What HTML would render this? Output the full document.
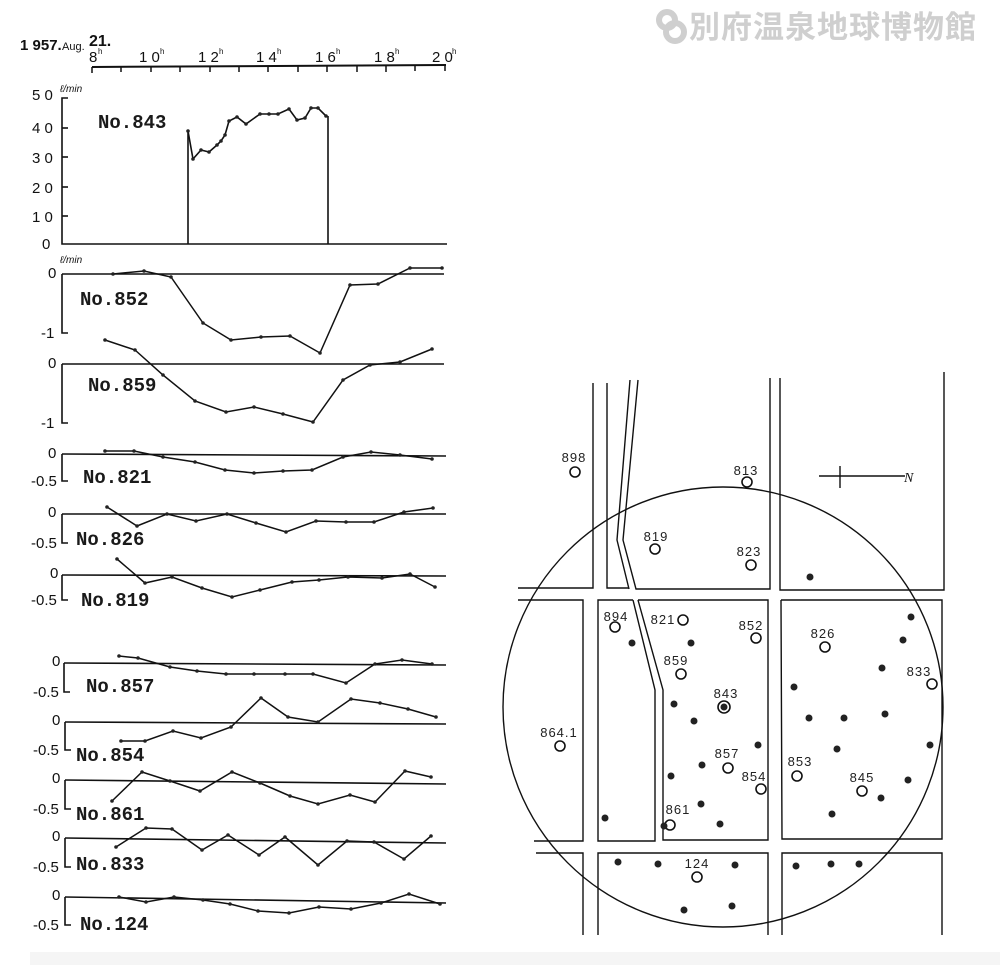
<!DOCTYPE html>
<html><head><meta charset="utf-8"><style>
html,body{margin:0;padding:0;background:#fff;}
svg{display:block;}
text{font-family:"Liberation Sans",sans-serif;fill:#111;}
text.lbl,.lbl text{font-family:"Liberation Mono","Liberation Serif",serif;font-size:19px;font-weight:bold;fill:#1a1a1a;}
.yl text{font-size:15px;}
.m text{font-size:13px;fill:#222;}
</style></head><body>
<svg width="1000" height="965" viewBox="0 0 1000 965" xmlns="http://www.w3.org/2000/svg">
<defs>
<marker id="d" markerWidth="4" markerHeight="4" refX="2" refY="2" markerUnits="userSpaceOnUse"><circle cx="2" cy="2" r="1.8" fill="#222"/></marker>
</defs>
<rect width="1000" height="965" fill="#fff"/>
<rect x="30" y="952" width="970" height="13" fill="#f5f5f5"/>

<g fill="#cfcfcf">
<circle cx="667" cy="20" r="8" fill="none" stroke="#cfcfcf" stroke-width="6"/>
<circle cx="675" cy="32" r="9" fill="none" stroke="#cfcfcf" stroke-width="6"/>
</g>
<text x="689" y="38" style="font-family:'Liberation Sans','Noto Sans CJK JP',sans-serif;font-size:31px;font-weight:bold;fill:#cfcfcf;letter-spacing:1px">別府温泉地球博物館</text>

<text x="20" y="50" style="font-size:15px;font-weight:bold">1 957.</text>
<text x="62" y="50" style="font-size:11px">Aug.</text>
<text x="89" y="46" style="font-size:16px;font-weight:bold">21.</text>
<g stroke="#111" stroke-width="2" fill="none">
<line x1="92" y1="67" x2="446" y2="65"/>
</g>
<g stroke="#111" stroke-width="1.5">
<line x1="92" y1="67" x2="92" y2="73"/><line x1="121" y1="67" x2="121" y2="72"/><line x1="151" y1="67" x2="151" y2="72"/><line x1="180" y1="67" x2="180" y2="72"/><line x1="210" y1="67" x2="210" y2="72"/><line x1="239" y1="67" x2="239" y2="72"/><line x1="268" y1="66" x2="268" y2="72"/><line x1="298" y1="66" x2="298" y2="72"/><line x1="327" y1="66" x2="327" y2="72"/><line x1="357" y1="66" x2="357" y2="72"/><line x1="386" y1="66" x2="386" y2="72"/><line x1="415" y1="65" x2="415" y2="71"/><line x1="445" y1="65" x2="445" y2="71"/>
</g>
<g style="font-size:15px">
<text x="89" y="62" style="font-size:15px">8</text><text x="98" y="54" style="font-size:8px">h</text>
<text x="139" y="62" style="font-size:15px">1 0</text><text x="160" y="54" style="font-size:8px">h</text>
<text x="198" y="62" style="font-size:15px">1 2</text><text x="219" y="54" style="font-size:8px">h</text>
<text x="256" y="62" style="font-size:15px">1 4</text><text x="277" y="54" style="font-size:8px">h</text>
<text x="315" y="62" style="font-size:15px">1 6</text><text x="336" y="54" style="font-size:8px">h</text>
<text x="374" y="62" style="font-size:15px">1 8</text><text x="395" y="54" style="font-size:8px">h</text>
<text x="432" y="62" style="font-size:15px">2 0</text><text x="452" y="54" style="font-size:8px">h</text>
</g>

<g class="yl">
<text x="32" y="100">5 0</text><text x="32" y="133">4 0</text><text x="32" y="163">3 0</text><text x="32" y="193">2 0</text><text x="32" y="222">1 0</text><text x="42" y="249">0</text>
</g>
<text x="60" y="92" style="font-size:10px;font-style:italic">ℓ/min</text>
<g stroke="#111" stroke-width="1.6" fill="none">
<polyline points="68,98 62,98 62,244 447,244"/>
<line x1="62" y1="128" x2="68" y2="128"/><line x1="62" y1="157" x2="68" y2="157"/><line x1="62" y1="187" x2="68" y2="187"/><line x1="62" y1="216" x2="68" y2="216"/>
<line x1="188" y1="244" x2="188" y2="131"/>
<line x1="328" y1="244" x2="328" y2="116"/>
</g>
<polyline fill="none" stroke="#111" stroke-width="1.6" marker-start="url(#d)" marker-mid="url(#d)" marker-end="url(#d)" points="188,131 193,159 201,150 209,152 217,145 221,141 225,135 229,121 237,117 246,124 260,114 269,114 278,114 289,109 297,120 305,118 311,108 318,108 326,116"/>
<text class="lbl" x="98" y="128">No.843</text>

<g stroke="#111" stroke-width="1.6" fill="none">
<polyline points="62,274 444,274"/><polyline points="62,274 62,333 68,333"/>
<polyline points="62,364 444,364"/><polyline points="62,364 62,423 68,423"/>
<polyline points="62,454 446,456"/><polyline points="62,454 62,481 68,481"/>
<polyline points="62,514 446,514"/><polyline points="62,514 62,543 68,543"/>
<polyline points="62,575 446,576"/><polyline points="62,575 62,600 68,600"/>
<polyline points="64,663 446,665"/><polyline points="64,663 64,692 70,692"/>
<polyline points="65,722 446,724"/><polyline points="65,722 65,750 71,750"/>
<polyline points="65,780 446,784"/><polyline points="65,780 65,809 71,809"/>
<polyline points="65,838 446,843"/><polyline points="65,838 65,867 71,867"/>
<polyline points="65,897 446,903"/><polyline points="65,897 65,925 71,925"/>
</g>
<g fill="none" stroke="#111" stroke-width="1.5" marker-start="url(#d)" marker-mid="url(#d)" marker-end="url(#d)">
<polyline points="113,274 144,271 171,277 203,323 231,340 261,337 290,336 320,353 350,285 378,284 410,268 442,268"/>
<polyline points="105,340 135,350 163,375 195,401 226,412 254,407 283,414 313,422 343,380 370,365 400,362 432,349"/>
<polyline points="105,451 134,451 163,457 195,462 225,470 254,473 283,471 312,470 343,457 371,452 400,455 432,459"/>
<polyline points="107,507 137,526 167,514 196,521 227,514 256,523 286,532 316,521 346,522 374,522 404,512 433,508"/>
<polyline points="117,559 145,583 172,577 202,588 232,597 260,590 292,582 319,580 348,577 382,578 410,574 435,587"/>
<polyline points="119,656 138,658 170,667 197,671 226,674 254,674 285,674 313,674 346,683 375,664 402,660 432,664"/>
<polyline points="121,741 145,741 173,731 201,738 231,727 261,698 288,717 318,722 351,699 380,703 408,709 436,717"/>
<polyline points="112,801 142,772 170,781 200,791 232,772 260,783 290,796 318,804 350,795 375,802 405,771 431,777"/>
<polyline points="116,847 146,828 172,829 202,850 228,835 259,855 285,837 318,865 347,841 374,842 404,859 431,836"/>
<polyline points="119,897 146,902 174,897 203,900 230,904 258,911 289,913 319,907 351,909 381,903 409,894 440,904"/>
</g>
<text x="60" y="263" style="font-size:10px;font-style:italic">ℓ/min</text>
<g class="yl">
<text x="48" y="278">0</text><text x="41" y="338">-1</text>
<text x="48" y="368">0</text><text x="41" y="428">-1</text>
<text x="48" y="458">0</text><text x="31" y="486">-0.5</text>
<text x="48" y="517">0</text><text x="31" y="548">-0.5</text>
<text x="50" y="578">0</text><text x="31" y="605">-0.5</text>
<text x="52" y="666">0</text><text x="33" y="697">-0.5</text>
<text x="52" y="725">0</text><text x="33" y="755">-0.5</text>
<text x="52" y="783">0</text><text x="33" y="814">-0.5</text>
<text x="52" y="841">0</text><text x="33" y="872">-0.5</text>
<text x="52" y="900">0</text><text x="33" y="930">-0.5</text>
</g>
<g class="lbl">
<text x="80" y="305">No.852</text>
<text x="88" y="391">No.859</text>
<text x="83" y="483">No.821</text>
<text x="76" y="545">No.826</text>
<text x="81" y="606">No.819</text>
<text x="86" y="692">No.857</text>
<text x="76" y="761">No.854</text>
<text x="76" y="820">No.861</text>
<text x="76" y="870">No.833</text>
<text x="80" y="930">No.124</text>
</g>

<g stroke="#111" stroke-width="1.4" fill="none">
<polyline points="593,383 593,588 518,588"/>
<polyline points="518,600 583,600 583,841 534,841"/>
<polyline points="536,853 583,853 583,935"/>
<polyline points="607,383 607,588 629,588"/>
<polyline points="630,380 617,540 629,589"/>
<polyline points="638,380 623,540 636,589 770,589 770,378"/>
<polyline points="780,378 780,590 944,590 944,372"/>
<polyline points="633,600 598,600 598,841 655,841 655,690 633,600"/>
<polyline points="638,600 768,600 768,840 663,840 663,690 638,600"/>
<polyline points="781,600 942,600 942,839 782,839 781,600"/>
<polyline points="598,935 598,853 768,853 768,935"/>
<polyline points="782,935 782,853 942,853 942,935"/>
<ellipse cx="723" cy="707" rx="220" ry="220"/>
<line x1="819" y1="476" x2="905" y2="476"/>
<line x1="840" y1="466" x2="840" y2="488"/>
</g>
<text x="904" y="482" style="font-size:14px;font-style:italic;font-family:'Liberation Serif',serif">N</text>
<g fill="#fff" stroke="#111" stroke-width="1.6">
<circle cx="575" cy="472" r="5"/><circle cx="747" cy="482" r="5"/><circle cx="655" cy="549" r="5"/><circle cx="751" cy="565" r="5"/>
<circle cx="615" cy="627" r="5"/><circle cx="683" cy="620" r="5"/><circle cx="756" cy="638" r="5"/><circle cx="825" cy="647" r="5"/>
<circle cx="681" cy="674" r="5"/><circle cx="724" cy="707" r="6"/><circle cx="932" cy="684" r="5"/><circle cx="560" cy="746" r="5"/>
<circle cx="728" cy="768" r="5"/><circle cx="761" cy="789" r="5"/><circle cx="797" cy="776" r="5"/><circle cx="862" cy="791" r="5"/>
<circle cx="670" cy="825" r="5"/><circle cx="697" cy="877" r="5"/>
</g>
<g fill="#222">
<circle cx="724" cy="707" r="3.5"/>
<circle cx="810" cy="577" r="3.5"/><circle cx="632" cy="643" r="3.5"/><circle cx="691" cy="643" r="3.5"/><circle cx="911" cy="617" r="3.5"/><circle cx="903" cy="640" r="3.5"/><circle cx="882" cy="668" r="3.5"/>
<circle cx="674" cy="704" r="3.5"/><circle cx="694" cy="721" r="3.5"/><circle cx="794" cy="687" r="3.5"/><circle cx="809" cy="718" r="3.5"/><circle cx="844" cy="718" r="3.5"/><circle cx="885" cy="714" r="3.5"/>
<circle cx="758" cy="745" r="3.5"/><circle cx="837" cy="749" r="3.5"/><circle cx="930" cy="745" r="3.5"/><circle cx="671" cy="776" r="3.5"/><circle cx="702" cy="765" r="3.5"/><circle cx="701" cy="804" r="3.5"/>
<circle cx="664" cy="826" r="3.5"/><circle cx="720" cy="824" r="3.5"/><circle cx="605" cy="818" r="3.5"/><circle cx="832" cy="814" r="3.5"/><circle cx="881" cy="798" r="3.5"/><circle cx="908" cy="780" r="3.5"/>
<circle cx="618" cy="862" r="3.5"/><circle cx="658" cy="864" r="3.5"/><circle cx="735" cy="865" r="3.5"/><circle cx="796" cy="866" r="3.5"/><circle cx="831" cy="864" r="3.5"/><circle cx="859" cy="864" r="3.5"/>
<circle cx="684" cy="910" r="3.5"/><circle cx="732" cy="906" r="3.5"/>
</g>
<g class="m" text-anchor="middle" style="letter-spacing:1px">
<text x="574" y="462">898</text><text x="746" y="475">813</text><text x="656" y="541">819</text><text x="749" y="556">823</text>
<text x="616" y="621">894</text><text x="663" y="624">821</text><text x="751" y="630">852</text><text x="823" y="638">826</text>
<text x="676" y="665">859</text><text x="726" y="698">843</text><text x="919" y="676">833</text><text x="559" y="737">864.1</text>
<text x="727" y="758">857</text><text x="754" y="781">854</text><text x="800" y="766">853</text><text x="862" y="782">845</text>
<text x="678" y="814">861</text><text x="697" y="868">124</text>
</g>
</svg>
</body></html>
